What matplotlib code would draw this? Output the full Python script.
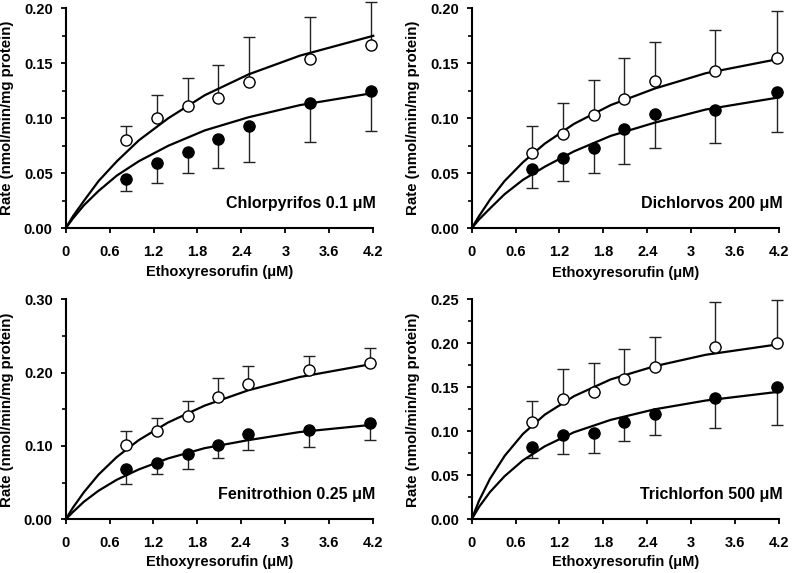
import numpy as np
import matplotlib.pyplot as plt
from matplotlib.ticker import MultipleLocator, FormatStrFormatter

plt.rcParams['font.family'] = ['Liberation Sans', 'DejaVu Sans']

# substrate concentrations (uM)
conc = [0.83, 1.25, 1.67, 2.08, 2.5, 3.33, 4.17]
# x points of the fitted curves
fit_x = [0, 0.1, 0.25, 0.45, 0.7, 1.0, 1.4, 1.9, 2.5, 3.2, 4.2]

titles = ['Chlorpyrifos 0.1 \u03bcM', 'Dichlorvos 200 \u03bcM',
          'Fenitrothion 0.25 \u03bcM', 'Trichlorfon 500 \u03bcM']
ymax = [0.20, 0.20, 0.30, 0.25]
ymajor = [0.05, 0.05, 0.10, 0.05]
yminor = [0.025, 0.025, 0.05, 0.025]

# open circles (mean, +SD) and closed circles (mean, -SD)
open_mean = [
    [0.080, 0.100, 0.111, 0.1185, 0.133, 0.154, 0.167],
    [0.0685, 0.0858, 0.103, 0.1173, 0.1342, 0.143, 0.1552],
    [0.1009, 0.120, 0.1405, 0.1673, 0.1845, 0.2032, 0.2132],
    [0.111, 0.1364, 0.1451, 0.1591, 0.1727, 0.1958, 0.2008],
]
open_sd = [
    [0.013, 0.021, 0.026, 0.030, 0.041, 0.038, 0.039],
    [0.0245, 0.0278, 0.0318, 0.0372, 0.0349, 0.0373, 0.0424],
    [0.020, 0.0182, 0.0213, 0.0254, 0.025, 0.020, 0.0204],
    [0.0238, 0.0341, 0.033, 0.0341, 0.0345, 0.0515, 0.0482],
]
closed_mean = [
    [0.0445, 0.059, 0.069, 0.081, 0.093, 0.114, 0.125],
    [0.0539, 0.0636, 0.0727, 0.090, 0.1036, 0.1076, 0.1236],
    [0.0686, 0.0764, 0.0886, 0.1009, 0.1164, 0.1218, 0.1318],
    [0.0826, 0.0955, 0.0981, 0.111, 0.1197, 0.1383, 0.150],
]
closed_sd = [
    [0.0105, 0.0175, 0.019, 0.026, 0.033, 0.0355, 0.037],
    [0.0175, 0.0203, 0.0224, 0.0315, 0.0309, 0.0303, 0.036],
    [0.0204, 0.0141, 0.020, 0.0177, 0.0214, 0.0232, 0.0241],
    [0.0129, 0.0213, 0.0223, 0.0224, 0.0239, 0.0349, 0.0432],
]

# fitted curves
open_fit = [
    [0, .011, .025, .043, .061, .080, .100, .121, .140, .157, .175],
    [0, .011, .026, .043, .060, .077, .095, .112, .127, .141, .154],
    [0, .016, .037, .061, .085, .108, .132, .155, .176, .194, .212],
    [0, .021, .046, .072, .097, .119, .140, .159, .174, .187, .199],
]
closed_fit = [
    [0, .009, .021, .034, .048, .061, .075, .089, .101, .112, .123],
    [0, .008, .018, .031, .044, .056, .070, .084, .096, .108, .119],
    [0, .010, .024, .039, .054, .068, .083, .097, .108, .119, .129],
    [0, .014, .031, .049, .067, .083, .099, .113, .125, .135, .145],
]

positions = [
    [0.0828, 0.6016, 0.3879, 0.3839],
    [0.5948, 0.6016, 0.3875, 0.3839],
    [0.0828, 0.0937, 0.3871, 0.3839],
    [0.5948, 0.0937, 0.3875, 0.3839],
]
xlabel_y = [-0.167, -0.172, -0.162, -0.162]
text_x = [1.009, 1.013, 1.009, 1.013]

xticks = [0, 0.6, 1.2, 1.8, 2.4, 3.0, 3.6, 4.2]
xticklabels = ['0', '0.6', '1.2', '1.8', '2.4', '3', '3.6', '4.2']

fig = plt.figure(figsize=(7.93, 5.73), dpi=100)

for i in range(4):
    ax = fig.add_axes(positions[i])
    n = len(conc)

    ax.plot(fit_x, open_fit[i], color='k', lw=1.6, zorder=3, clip_on=False)
    ax.plot(fit_x, closed_fit[i], color='k', lw=1.6, zorder=3, clip_on=False)

    ax.errorbar(conc, open_mean[i], yerr=[np.zeros(n), open_sd[i]], fmt='none',
                ecolor='#222222', elinewidth=1, capsize=4, capthick=1,
                zorder=2, clip_on=False)
    ax.errorbar(conc, closed_mean[i], yerr=[closed_sd[i], np.zeros(n)], fmt='none',
                ecolor='#222222', elinewidth=1, capsize=4, capthick=1,
                zorder=2, clip_on=False)

    ax.plot(conc, open_mean[i], 'o', ms=8, mfc='white', mec='k', mew=1,
            zorder=4, clip_on=False)
    ax.plot(conc, closed_mean[i], 'o', ms=8, mfc='k', mec='k', mew=1,
            zorder=4, clip_on=False)

    ax.set_xlim(0, 4.2)
    ax.set_ylim(0, ymax[i])
    ax.set_xticks(xticks)
    ax.set_xticklabels(xticklabels)
    ax.yaxis.set_major_locator(MultipleLocator(ymajor[i]))
    ax.yaxis.set_minor_locator(MultipleLocator(yminor[i]))
    ax.yaxis.set_major_formatter(FormatStrFormatter('%.2f'))

    for s in ['top', 'right']:
        ax.spines[s].set_visible(False)
    for s in ['left', 'bottom']:
        ax.spines[s].set_linewidth(1.5)

    ax.tick_params(axis='both', which='major', direction='out', length=3.8,
                   width=1.3, labelsize=10.5)
    ax.tick_params(axis='y', which='minor', direction='out', length=3.2, width=1.2)
    ax.tick_params(axis='x', pad=8.5)
    ax.tick_params(axis='y', pad=5.5)
    for lab in ax.get_xticklabels() + ax.get_yticklabels():
        lab.set_fontweight('bold')

    ax.set_xlabel('Ethoxyresorufin (\u03bcM)', fontsize=10.5, fontweight='bold')
    ax.set_ylabel('Rate (nmol/min/mg protein)', fontsize=10.8, fontweight='bold')
    ax.xaxis.set_label_coords(0.5, xlabel_y[i])
    ax.yaxis.set_label_coords(-0.168, 0.5)

    ax.text(text_x[i], 0.092, titles[i], transform=ax.transAxes, ha='right',
            va='baseline', fontsize=11.5, fontweight='bold')

plt.savefig('out.png', dpi=100)
